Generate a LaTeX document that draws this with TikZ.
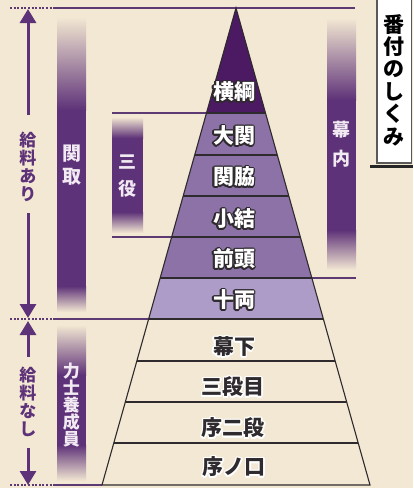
\documentclass[tikz,border=0pt]{standalone}
\usepackage{fontspec}
\newfontfamily\jp{Noto Sans CJK JP}
\usetikzlibrary{arrows.meta}
\definecolor{bg}{HTML}{F3E8D3}
\definecolor{barp}{HTML}{5E3278}
\definecolor{linep}{HTML}{5E3A74}
\definecolor{yoko}{HTML}{4B1A63}
\definecolor{midp}{HTML}{8C72A6}
\definecolor{lightp}{HTML}{AD9BC8}
\definecolor{edge}{HTML}{2E2A2E}
\definecolor{bartext}{HTML}{F2EAF2}
\tikzset{
  pyr/.style={font=\jp\bfseries\fontsize{21}{21}\selectfont, inner sep=0pt},
  bracket/.style={draw=linep, line width=1.3pt},
  dotline/.style={draw=linep, line width=1.3pt, dash pattern=on 2pt off 1.6pt},
  layerline/.style={draw=edge, line width=1.1pt},
  salary/.style={draw=barp, line width=3pt, -{Triangle[width=16pt,length=14pt]}},
  saltext/.style={text=barp, align=center, inner sep=0pt, font=\jp\bfseries\fontsize{17}{18}\selectfont},
  bartxt/.style={text=bartext, align=center, inner sep=0pt},
}
\newcommand\outlined[5]{%
  \foreach \a in {0,30,...,330}{\node[pyr,text=#5] at ([shift={(\a:1.5)}]#2) {#3};}
  \node[pyr,text=#4] (#1) at (#2) {#3};}
% vertical bar with faded ends: x1,x2,ytop,ysolidtop,ysolidbot,ybot
\newcommand\fadebar[6]{%
  \shade[top color=bg, bottom color=barp] (#1,#3) rectangle (#2,#4);
  \fill[barp] (#1,#4-0.3) rectangle (#2,#5+0.3);
  \shade[top color=barp, bottom color=bg] (#1,#5) rectangle (#2,#6);}
\begin{document}
\begin{tikzpicture}[x=1pt,y=-1pt]
\useasboundingbox (0,0) rectangle (413,488);
\fill[bg] (0,0) rectangle (413,488);

% ---------- bracket lines ----------
\coordinate (dA1) at (10,8);   \coordinate (dA2) at (53,8);
\coordinate (sA2) at (355,8);
\coordinate (dB1) at (10,319); \coordinate (dB2) at (53,319);
\coordinate (dC1) at (10,485); \coordinate (dC2) at (53,485);
\draw[dotline] (dA1) -- (dA2);
\draw[dotline] (dB1) -- (dB2);
\draw[dotline] (dC1) -- (dC2);
\draw[bracket] (dA2) -- (sA2);
\draw[bracket] (dB2) -- (148.6,319);
\draw[bracket] (dC2) -- (102,485);
\draw[bracket] (112,113) -- (206.5,113);
\draw[bracket] (112,237) -- (171.7,237);
\draw[bracket] (311.8,278) -- (356,278);

% ---------- vertical bars ----------
\fadebar{57}{86}{17}{110}{286}{312}
\fadebar{57}{86}{325}{375}{445}{481}
\fadebar{112}{143}{117}{138}{212}{233}
\fadebar{327}{356}{18}{100}{230}{270}

\node[bartxt, font=\jp\bfseries\fontsize{19}{23}\selectfont] (sekitori) at (71.5,165) {関\\取};
\node[bartxt, font=\jp\bfseries\fontsize{18}{27}\selectfont] (sanyaku) at (127.5,176) {三\\役};
\node[bartxt, font=\jp\bfseries\fontsize{18}{29}\selectfont] (makuuchi) at (341.5,144) {幕\\内};
\node[bartxt, font=\jp\bfseries\fontsize{17}{17}\selectfont] (yousei) at (71.5,405) {力\\士\\養\\成\\員};

% ---------- pyramid ----------
\coordinate (apex) at (236,8);
\fill[yoko] (apex) -- (206.5,113) -- (265.5,113) -- cycle;
\fill[midp] (206.5,113) -- (265.5,113) -- (311.8,278) -- (160.2,278) -- cycle;
\fill[lightp] (160.2,278) -- (311.8,278) -- (323.4,319) -- (148.6,319) -- cycle;
\draw[layerline] (206.5,113) -- (265.5,113);
\draw[layerline] (194.7,155) -- (277.3,155);
\draw[layerline] (183.2,196) -- (288.8,196);
\draw[layerline] (171.7,237) -- (300.3,237);
\draw[layerline] (160.2,278) -- (311.8,278);
\draw[layerline] (148.6,319) -- (323.4,319);
\draw[layerline] (136.8,361) -- (335.2,361);
\draw[layerline] (125.3,402) -- (346.7,402);
\draw[layerline] (113.8,443) -- (358.2,443);
\draw[layerline, line join=miter] (102,485) -- (apex) -- (370,485) -- cycle;

\outlined{yokozuna}{234,92}{横綱}{white}{edge}
\outlined{ozeki}{234,136}{大関}{white}{edge}
\outlined{sekiwake}{234,177}{関脇}{white}{edge}
\outlined{komusubi}{234,219}{小結}{white}{edge}
\outlined{maegashira}{234,259}{前頭}{white}{edge}
\outlined{juryo}{234,300}{十両}{white}{edge}
\outlined{makushita}{234,347}{幕下}{edge}{white}
\outlined{sandanme}{233,387}{三段目}{edge}{white}
\outlined{jonidan}{233,428}{序二段}{edge}{white}
\outlined{jonokuchi}{234,467}{序ノ口}{edge}{white}

% ---------- salary arrows ----------
\coordinate (ua1) at (28,115); \coordinate (ua2) at (28,9);
\coordinate (ub1) at (28,213); \coordinate (ub2) at (28,318);
\coordinate (la1) at (28,357); \coordinate (la2) at (28,321);
\coordinate (lb1) at (28,448); \coordinate (lb2) at (28,485);
\draw[salary] (ua1) -- (ua2);
\draw[salary] (ub1) -- (ub2);
\draw[salary] (la1) -- (la2);
\draw[salary] (lb1) -- (lb2);
\node[saltext] (ari) at (28,167) {給\\料\\あ\\り};
\node[saltext] (nashi) at (28,402) {給\\料\\な\\し};

% ---------- title ----------
\fill[white, draw=gray!70!black, line width=1.5pt] (377,-2) rectangle (411.5,163);
\fill[black!85] (370,164.5) rectangle (413,168);
\node[align=center, inner sep=0pt, text=black, font=\jp\bfseries\fontsize{21}{22.4}\selectfont] (title) at (394,80) {番\\付\\の\\し\\く\\み};
\end{tikzpicture}
\end{document}
